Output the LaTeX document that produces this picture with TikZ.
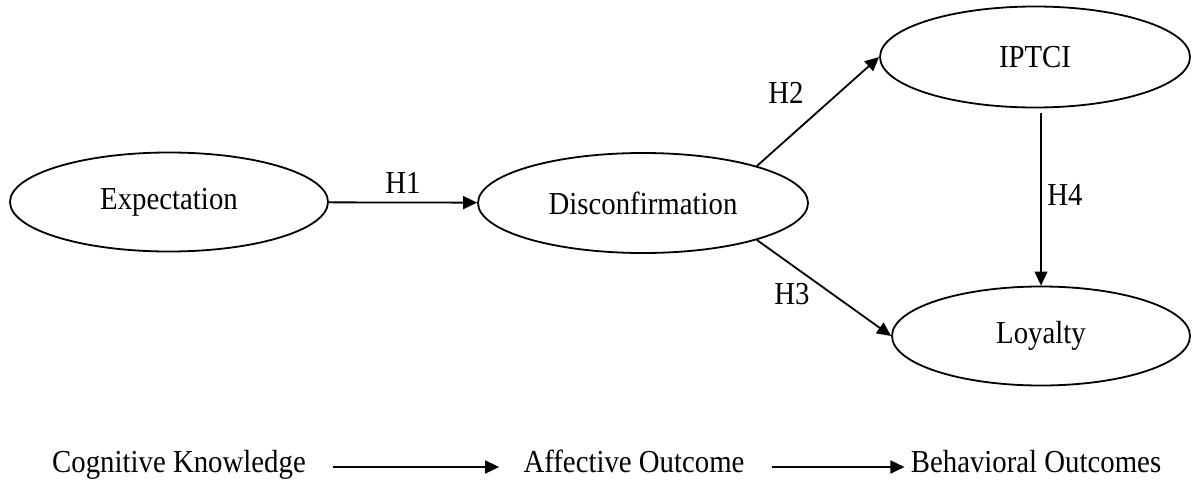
\documentclass[tikz,border=0pt]{standalone}
\usepackage{fontspec}
\setmainfont{Liberation Serif}[FakeStretch=0.9]
\usetikzlibrary{shapes.geometric,arrows.meta}

\begin{document}
\begin{tikzpicture}[x=0.5pt,y=-0.5pt,>={Triangle[length=7pt,width=6.5pt]},
    font=\fontsize{16}{19}\selectfont]
  \useasboundingbox (0,0) rectangle (1192,487);

      \begin{scope}[every node/.style={ellipse,draw,line width=0.9pt,inner sep=0pt}]
        \node[minimum width=159pt,minimum height=49.5pt] (exp) at (169,202) {Expectation};
        \node[minimum width=165pt,minimum height=50pt] (dis) at (643,203) {Disconfirmation};
        \node[minimum width=155pt,minimum height=50.5pt] (iptci) at (1035,57) {IPTCI};
        \node[minimum width=149pt,minimum height=49.5pt] (loy) at (1041,336) {Loyalty};
      \end{scope}

      \begin{scope}[every node/.style={inner sep=0pt,text height=1.6ex,text depth=0.45ex}]
        \node (h1) at (403,188) {H1};
        \node (h2) at (786,98) {H2};
        \node (h3) at (792,299) {H3};
        \node (h4) at (1065,200) {H4};
        \node (cog) at (179,467) {Cognitive Knowledge};
        \node (aff) at (634,467) {Affective Outcome};
        \node (beh) at (1036,467) {Behavioral Outcomes};
      \end{scope}

      \begin{scope}[every edge/.style={draw=black,line width=0.9pt}]
        \path [->] (exp) edge (dis);
        \path [->] (dis.18) edge (iptci.west);
        \path [->] (dis.-18) edge (loy.west);
        \path [->] (iptci.south -| loy.north) edge[shorten <=2.5pt,line width=0.6pt] (loy.north);
        \path [->] (cog) edge[shorten <=13.5pt,shorten >=12pt] (aff);
        \path [->] (aff) edge[shorten <=13.5pt,shorten >=3pt] (beh);
      \end{scope}
    \end{tikzpicture}
\end{document}
